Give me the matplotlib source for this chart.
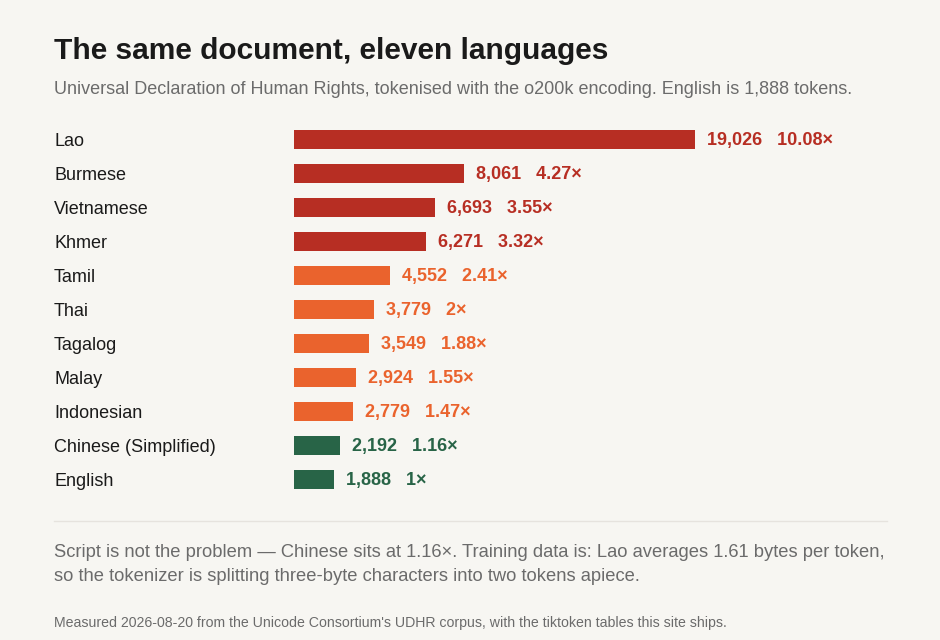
import matplotlib
matplotlib.use("Agg")
import matplotlib.pyplot as plt
from matplotlib.transforms import blended_transform_factory, offset_copy

# Token counts per language (UDHR, o200k encoding)
languages = ["Lao", "Burmese", "Vietnamese", "Khmer", "Tamil", "Thai", "Tagalog",
             "Malay", "Indonesian", "Chinese (Simplified)", "English"]
tokens = [19026, 8061, 6693, 6271, 4552, 3779, 3549, 2924, 2779, 2192, 1888]
baseline = 1888

RED = "#b72e23"
ORANGE = "#ea632d"
GREEN = "#286447"
BG = "#f7f6f2"

def tier_color(ratio):
    if ratio > 3:
        return RED
    if ratio > 1.3:
        return ORANGE
    return GREEN

def fmt_ratio(r):
    s = "%.2f" % r
    s = s.rstrip("0").rstrip(".")
    return s + "\u00d7"

plt.rcParams['font.family'] = ['Liberation Sans', 'DejaVu Sans']

W, H = 940, 640
fig = plt.figure(figsize=(W / 100, H / 100), dpi=100, facecolor=BG)

# axes in pixel coordinates: bars start at x=294, rows centred 139.5 .. 479.5
px_per_token = 401 / 19026
ax_left, ax_right = 294, 887
ax_top, ax_bot = 122.5, 496.5
ax = fig.add_axes([ax_left / W, 1 - ax_bot / H, (ax_right - ax_left) / W, (ax_bot - ax_top) / H])
ax.set_facecolor(BG)
ax.set_xlim(0, (ax_right - ax_left) / px_per_token)
ax.set_ylim(len(languages) - 0.5, -0.5)
ax.axis("off")

ratios = [t / baseline for t in tokens]
colors = [tier_color(r) for r in ratios]
ypos = list(range(len(languages)))
ax.barh(ypos, tokens, height=0.57, color=colors)

trans = blended_transform_factory(fig.transFigure, ax.transData)
trans = offset_copy(trans, fig=fig, x=0, y=-1.5, units="dots")
for y, lang, t, r, c in zip(ypos, languages, tokens, ratios, colors):
    ax.text(54 / W, y, lang, transform=trans, ha="left", va="center",
            fontsize=13, color="#1a1a1a")
    ax.annotate("{:,}   {}".format(t, fmt_ratio(r)), xy=(t, y), xytext=(12, -1.5),
                textcoords="offset pixels", ha="left", va="center",
                fontsize=13, fontweight="bold", color=c)

# titles
fig.text(54 / W, 1 - 51 / H, "The same document, eleven languages", ha="left", va="center",
         fontsize=21.5, fontweight="bold", color="#1a1a1a")
fig.text(54 / W, 1 - 89.5 / H,
         "Universal Declaration of Human Rights, tokenised with the o200k encoding. English is 1,888 tokens.",
         ha="left", va="center", fontsize=13, color="#6b6b6b")

# divider
fig.add_artist(plt.Line2D([54 / W, 887 / W], [1 - 521 / H, 1 - 521 / H],
                          transform=fig.transFigure, color="#e6e3de", lw=1))

fig.text(54 / W, 1 - 552.5 / H,
         "Script is not the problem \u2014 Chinese sits at 1.16\u00d7. Training data is: Lao averages 1.61 bytes per token,",
         ha="left", va="center", fontsize=13.2, color="#6b6b6b")
fig.text(54 / W, 1 - 576.5 / H,
         "so the tokenizer is splitting three-byte characters into two tokens apiece.",
         ha="left", va="center", fontsize=13.2, color="#6b6b6b")
fig.text(54 / W, 1 - 623 / H,
         "Measured 2026-08-20 from the Unicode Consortium's UDHR corpus, with the tiktoken tables this site ships.",
         ha="left", va="center", fontsize=10.2, color="#6b6b6b")

fig.savefig("out.png", dpi=100, facecolor=BG)
